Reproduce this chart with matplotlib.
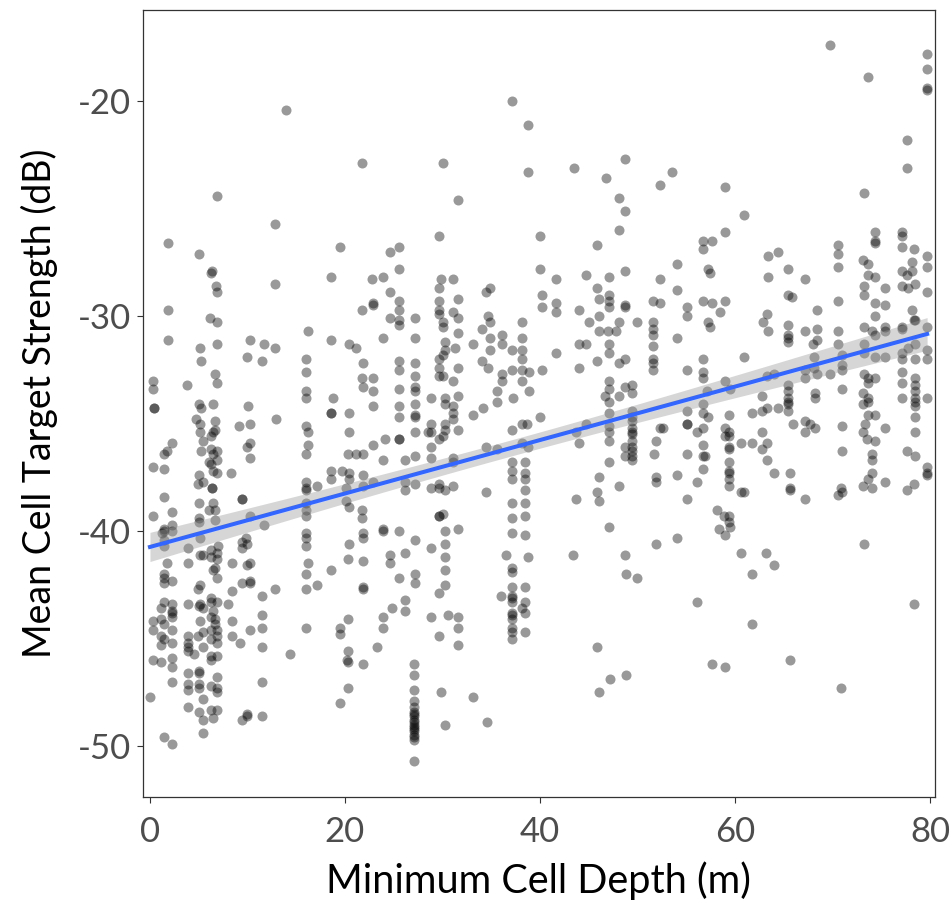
import numpy as np
import matplotlib
matplotlib.use("Agg")
import matplotlib.pyplot as plt

plt.rcParams['font.family'] = ['Lato', 'DejaVu Sans']
plt.rcParams['axes.unicode_minus'] = False

# points: (minimum cell depth m, mean cell TS dB)
pts_shallow = [
    (14.0,-20.4),(6.9,-24.4),(12.8,-25.7),(1.9,-26.6),(5.0,-27.1),(6.4,-27.9),(6.3,-28.0),(19.5,-26.8),(18.6,-28.2),
    (6.8,-28.6),(6.9,-28.9),(12.8,-28.5),(1.9,-29.7),(6.2,-30.1),(6.9,-30.3),(1.9,-31.1),(5.1,-31.5),(6.9,-31.3),
    (10.3,-31.1),(11.7,-31.3),(12.8,-31.5),(16.2,-30.7),(18.6,-31.1),(5.2,-32.1),(10.0,-31.9),(11.5,-32.1),(16.0,-32.0),
    (0.3,-33.0),(0.3,-33.4),(3.8,-33.2),(6.7,-32.7),(6.9,-33.1),(16.0,-32.6),(16.0,-33.5),(16.0,-33.8),(18.8,-33.8),
    (0.4,-34.3),(0.4,-34.3),(5.0,-34.1),(5.2,-34.3),(6.5,-34.1),(10.1,-34.2),(18.6,-34.5),(18.6,-34.5),(4.7,-34.8),
    (5.1,-35.0),(6.7,-34.9),(6.7,-35.3),(6.5,-35.4),(6.3,-35.6),(9.1,-35.1),(10.3,-35.0),(12.9,-34.8),(16.0,-35.1),
    (16.2,-35.4),(5.1,-35.4),(5.4,-35.8),(2.3,-35.9),(1.7,-36.3),(1.4,-36.4),(5.2,-36.3),(6.3,-36.2),(6.5,-36.4),
    (6.9,-36.3),(6.9,-36.7),(10.3,-35.9),(10.0,-36.1),(10.3,-36.6),(16.2,-36.0),(16.0,-36.4),(0.3,-37.0),(1.4,-37.1),
    (6.3,-36.9),(6.5,-37.2),(6.9,-37.3),(6.1,-36.8),(8.3,-37.3),(18.6,-37.2),(5.0,-37.4),(5.4,-37.7),
    (4.9,-37.8),(16.0,-37.7),(16.0,-38.0),(16.0,-38.1),(17.1,-37.9),(18.6,-37.6),(6.4,-38.0),(6.4,-38.0),(1.4,-38.4),
    (9.4,-38.5),(9.4,-38.5),(5.0,-38.7),(6.5,-38.7),(6.7,-39.0),(6.1,-39.0),(2.3,-39.1),(0.3,-39.3),(16.0,-38.7),
    (16.0,-39.0),(16.0,-39.3),(10.3,-39.3),(5.0,-39.4),(5.0,-39.6),(6.7,-39.5),(2.3,-39.7),(1.4,-39.9),(1.2,-40.1),
    (11.7,-39.7),(16.0,-40.1),(16.0,-40.3),(9.8,-40.3),
    (1.4,-40.0),(1.4,-40.4),(1.4,-40.7),(2.3,-40.0),(5.1,-40.3),(3.9,-40.8),(7.0,-40.7),(6.9,-41.0),(6.9,-41.3),
    (6.3,-40.9),(6.3,-41.2),(5.1,-41.1),(5.4,-41.1),(9.4,-40.5),(10.0,-40.6),(9.4,-40.8),(16.0,-40.7),(1.7,-41.5),
    (3.9,-41.5),(8.4,-41.5),(10.3,-41.5),(10.0,-41.6),(16.2,-41.5),(6.7,-41.7),(6.5,-41.8),(6.9,-42.2),(1.4,-42.0),
    (1.4,-42.2),(1.4,-42.4),(2.3,-42.3),(5.1,-42.5),(4.9,-42.7),(10.3,-42.3),(10.3,-42.4),(9.4,-42.4),(16.0,-42.0),
    (17.1,-42.5),(18.6,-41.8),(16.0,-42.7),(8.4,-42.8),(11.5,-43.0),(12.8,-42.7),(1.4,-43.3),(1.1,-43.6),(2.3,-43.4),
    (2.3,-43.7),(2.3,-43.8),(3.9,-43.4),(5.1,-43.4),(5.4,-43.6),(5.0,-43.5),(6.3,-43.1),(6.3,-43.3),(6.9,-43.3),
    (6.5,-43.7),(8.0,-43.4),(0.3,-44.2),(0.3,-44.6),(1.1,-44.1),(1.4,-44.3),(2.3,-44.6),(2.3,-44.0),(5.1,-44.2),
    (6.3,-44.0),(6.7,-44.1),(6.7,-44.3),(6.3,-44.6),(6.9,-44.6),(8.4,-44.2),(10.3,-44.6),(11.5,-43.9),(11.5,-44.5),
    (16.0,-44.5),(1.1,-44.9),(1.4,-45.0),(1.1,-45.3),(2.3,-45.2),(3.9,-44.9),(3.9,-45.2),(3.9,-45.6),(3.9,-45.4),
    (4.9,-44.9),(5.4,-44.7),(5.4,-45.4),(6.3,-45.0),(6.9,-44.9),(6.9,-45.2),(8.4,-44.9),(9.2,-45.2),(11.5,-45.4),
    (14.4,-45.7),(0.3,-46.0),(1.1,-46.1),(2.3,-45.9),(2.3,-46.3),(4.5,-45.7),(6.3,-45.8),(6.9,-45.8),(6.3,-46.0),
    (3.9,-46.6),(5.0,-46.5),(5.0,-46.6),(6.9,-46.8),(2.3,-47.0),(3.9,-47.1),(3.9,-47.4),(5.0,-47.1),(5.0,-47.3),
    (6.3,-47.2),(6.9,-47.3),(6.9,-47.5),(11.5,-47.0),(0.0,-47.7),(5.4,-47.8),(3.9,-48.2),(5.0,-48.4),(6.3,-48.3),
    (6.9,-48.3),(5.4,-48.8),(6.5,-48.7),(9.4,-48.8),(10.0,-48.6),(10.0,-48.5),(11.5,-48.6),(5.4,-49.4),(1.4,-49.6),
    (2.3,-49.9),(19.5,-44.5),(19.5,-44.8),(19.5,-48.0),
]

pts_mid = [
    (37.1,-20.0),(38.8,-21.1),(21.7,-22.9),(30.1,-22.9),(38.8,-23.3),(31.6,-24.6),(29.6,-26.3),(24.6,-27.0),(25.5,-26.8),
    (25.5,-27.8),(22.8,-28.3),(23.9,-28.2),(29.8,-28.3),(31.1,-28.3),(40.0,-26.3),(40.0,-27.8),
    (29.6,-28.7),(34.9,-28.7),(34.5,-28.9),(24.6,-28.9),(25.5,-29.3),(22.9,-29.4),(22.9,-29.5),(21.7,-29.7),(25.5,-29.7),
    (29.6,-29.3),(31.6,-29.2),(29.6,-29.7),(29.6,-29.9),(31.1,-29.8),(24.6,-30.1),(25.5,-30.2),(25.5,-30.4),(27.2,-30.1),
    (30.1,-30.3),(30.1,-30.5),(31.6,-30.1),(34.7,-30.0),(34.9,-30.3),(34.1,-30.6),(38.2,-30.3),(23.9,-31.0),(27.2,-31.0),
    (30.3,-31.2),(31.6,-30.8),(34.9,-31.0),(36.1,-30.9),(36.1,-31.3),(38.2,-31.0),(20.4,-31.3),(21.1,-31.5),(33.1,-31.3),
    (37.1,-31.6),(38.2,-31.6),(30.3,-31.6),(31.3,-31.5),(30.1,-31.8),(29.6,-32.0),(29.6,-32.4),(34.9,-31.6),(25.5,-32.1),
    (25.5,-32.5),(27.2,-32.2),(21.8,-32.2),(31.6,-32.4),(34.1,-32.1),(34.7,-32.4),(37.1,-32.5),(38.2,-32.0),(38.2,-32.5),
    (38.9,-32.6),(36.1,-32.7),(36.1,-33.0),(21.7,-32.9),(22.9,-32.9),(21.8,-33.3),(22.9,-33.5),(27.2,-32.8),(27.2,-33.3),
    (27.2,-33.5),(29.6,-32.8),(30.1,-32.8),(31.1,-33.0),(38.2,-33.0),(25.5,-33.4),(35.6,-33.5),(35.6,-34.0),(31.6,-33.7),
    (37.2,-33.8),(38.9,-33.5),(28.8,-33.8),(30.3,-33.8),(30.3,-34.1),(22.9,-34.2),(25.5,-34.2),(25.5,-34.7),(27.2,-34.1),
    (27.2,-34.6),(27.2,-34.7),(31.1,-34.2),(31.1,-34.5),(20.4,-34.5),(34.2,-34.3),(33.1,-34.6),(40.0,-34.7),(28.8,-35.0),
    (30.3,-35.0),(30.3,-35.3),(31.6,-35.3),(28.8,-35.4),(31.1,-34.8),(38.2,-35.0),(38.7,-35.0),(20.4,-35.4),(25.5,-35.7),
    (25.5,-35.7),(27.2,-35.4),(28.5,-35.4),(30.1,-35.6),(29.6,-35.7),(37.1,-35.3),(24.1,-35.7),(22.9,-36.0),(38.2,-35.9),
    (38.8,-36.1),(20.3,-36.4),(21.1,-36.4),(21.8,-36.4),(27.2,-36.5),(28.8,-36.1),(28.8,-36.6),(34.5,-36.1),(35.6,-36.2),
    (23.9,-36.7),(26.2,-36.7),(31.1,-36.6),(31.1,-36.8),(37.1,-36.8),(38.5,-36.8),(19.7,-37.2),(20.4,-37.3),(20.4,-37.6),
    (21.8,-37.4),(22.9,-37.7),(21.8,-37.9),(26.2,-37.7),(27.2,-37.8),(29.6,-37.8),(29.6,-38.0),(30.3,-38.1),
    (31.1,-37.9),(37.1,-37.2),(37.1,-37.6),(38.5,-37.3),(38.5,-37.6),(20.1,-38.0),(20.1,-38.6),(20.4,-38.9),(26.2,-38.1),
    (28.8,-38.0),(34.5,-38.2),(37.1,-38.7),(38.5,-38.1),(38.5,-38.7),(21.7,-39.0),(21.7,-39.4),(29.6,-39.3),(29.6,-39.3),
    (30.1,-39.2),(37.1,-39.4),(38.5,-39.3),(21.8,-40.1),(23.9,-39.9),(25.5,-40.0),(30.3,-40.0),(31.6,-39.9),(37.1,-40.1),
    (38.5,-40.2),
    (21.8,-40.3),(23.9,-40.0),(27.2,-40.4),(30.3,-40.6),(20.4,-40.6),(20.3,-41.3),(21.8,-41.4),(24.6,-41.1),(24.6,-41.5),
    (26.2,-41.0),(28.8,-40.8),(30.3,-41.2),(30.3,-41.8),(36.5,-41.1),(38.8,-41.2),(37.1,-41.9),(37.1,-41.7),(25.5,-42.2),
    (27.2,-42.0),(27.2,-42.4),(21.8,-42.6),(21.8,-42.7),(30.3,-42.5),(29.6,-42.9),(36.0,-43.0),(37.1,-42.6),(37.1,-43.0),
    (37.1,-43.1),(37.1,-43.3),(38.5,-42.6),(38.5,-43.3),(26.2,-43.2),(26.2,-43.7),(24.8,-43.6),(37.1,-43.8),(37.1,-43.9),
    (37.1,-44.1),(37.1,-44.5),(37.1,-44.7),(37.1,-45.0),(38.2,-43.6),(38.5,-43.8),(38.5,-44.7),(20.3,-44.1),(23.9,-44.0),
    (23.9,-44.5),(28.8,-44.0),(30.6,-43.9),(31.6,-44.0),(31.6,-44.5),(31.6,-45.3),(29.6,-44.9),(23.3,-45.4),(20.3,-45.6),
    (20.2,-46.0),(20.3,-46.1),(21.8,-46.2),(20.3,-47.3),
    (27.1,-46.2),(27.1,-46.7),(27.1,-47.4),(27.1,-47.9),(27.1,-48.2),(27.1,-48.4),(27.1,-48.5),(27.1,-48.6),(27.1,-48.8),
    (27.1,-48.9),(27.1,-49.0),(27.1,-49.1),(27.1,-49.2),(27.1,-49.3),(27.1,-49.5),(27.1,-49.6),(27.1,-49.7),(27.1,-50.7),
    (29.8,-47.5),(33.1,-47.7),(30.3,-49.0),(34.6,-48.9),
]

pts_deep = [
    (48.7,-22.7),(43.5,-23.1),(46.8,-23.6),(53.5,-23.3),(52.3,-23.9),(59.0,-24.0),(48.1,-24.5),(48.7,-25.1),(48.1,-26.0),
    (45.8,-26.7),(59.0,-26.1),(56.7,-26.5),(57.6,-26.5),(56.7,-26.9),(54.1,-27.6),(57.2,-27.8),(57.4,-28.0),(48.7,-27.9),
    (44.7,-28.1),(47.1,-28.2),(41.6,-28.3),(52.3,-28.3),
    (40.2,-29.0),(45.8,-28.7),(47.1,-29.0),(47.1,-29.3),(47.1,-29.6),(46.1,-29.2),(51.6,-29.3),(52.3,-29.4),(54.1,-28.8),
    (56.7,-29.3),(57.6,-29.4),(59.0,-29.3),(41.6,-29.4),(41.6,-29.8),(40.2,-29.6),(44.0,-29.7),(48.7,-29.5),(48.7,-29.6),
    (55.1,-29.6),(55.1,-30.0),(58.5,-29.8),(46.1,-30.0),(45.0,-30.3),(48.1,-30.3),(49.9,-30.3),(51.6,-30.3),(51.6,-30.6),
    (51.6,-30.9),(47.0,-30.7),(47.8,-30.7),(46.1,-30.7),(57.2,-30.3),(57.4,-30.5),(54.1,-31.0),(44.0,-31.3),(44.7,-31.3),
    (47.1,-31.3),(47.1,-31.7),(51.6,-31.4),(51.6,-32.0),(51.6,-32.5),(51.6,-32.2),(41.6,-31.7),(45.8,-32.1),(48.1,-32.2),
    (48.7,-32.0),(56.7,-32.0),(40.2,-32.5),(44.0,-32.4),(55.1,-32.5),(56.7,-32.6),(56.7,-32.9),(47.1,-33.0),(47.1,-33.4),
    (46.7,-33.7),(47.1,-34.0),(48.1,-33.7),(48.7,-33.3),(49.4,-33.2),(49.4,-33.6),(57.1,-33.5),(59.0,-33.0),(59.5,-33.4),
    (47.1,-34.5),(49.4,-34.4),(49.4,-34.7),(49.4,-34.9),(49.4,-35.2),(49.4,-35.4),(49.4,-35.5),(49.4,-35.8),(49.4,-36.1),
    (49.4,-36.3),(49.4,-36.5),(49.4,-36.7),(48.7,-36.1),(48.7,-36.5),(44.7,-35.0),(43.7,-35.4),(44.0,-35.9),
    (47.1,-35.1),(47.1,-35.4),(47.1,-35.8),(52.6,-35.2),(52.3,-35.2),(51.9,-35.8),(51.7,-36.4),(55.1,-34.4),(55.1,-35.0),
    (55.1,-35.0),(56.7,-34.1),(56.7,-34.5),(56.7,-35.2),(56.1,-35.4),(57.2,-34.7),(59.4,-34.6),(59.4,-35.4),(59.4,-35.6),
    (59.4,-36.1),(59.4,-36.2),(59.4,-36.8),(59.4,-37.2),(59.4,-37.3),(59.4,-37.6),(59.4,-37.9),(59.0,-35.2),(59.0,-35.6),
    (56.7,-36.0),(56.7,-36.5),(56.9,-36.5),(56.7,-37.1),(55.1,-36.4),(47.1,-36.8),(46.1,-37.5),(45.8,-38.2),(46.1,-38.6),
    (48.1,-37.9),(51.9,-37.5),(51.9,-37.7),(54.1,-37.4),(56.1,-37.7),(55.1,-38.5),(43.7,-38.5),(58.2,-39.0),(58.9,-39.3),
    (59.4,-39.3),(59.4,-39.6),(59.5,-39.8),(58.4,-39.9),(47.1,-39.8),(54.1,-40.3),
    (43.4,-41.1),(48.7,-41.1),(51.9,-40.6),(48.8,-42.0),(49.9,-42.2),(56.1,-43.3),(45.8,-45.4),(47.2,-46.9),(46.1,-47.5),
    (48.8,-46.7),(57.6,-46.2),(59.0,-46.3),(59.0,-40.2),
    (69.7,-17.4),(79.7,-17.8),(79.7,-18.5),(79.7,-19.4),(79.7,-19.5),(73.6,-18.9),(77.6,-21.8),(77.6,-23.1),(73.2,-24.3),
    (60.9,-25.3),(74.4,-26.1),(74.4,-26.5),(74.4,-26.6),(77.1,-26.1),(77.1,-26.3),(77.1,-26.8),(78.4,-26.9),(79.7,-27.2),
    (79.7,-27.7),(70.6,-26.7),(70.6,-27.1),(70.6,-27.7),(63.4,-27.2),(64.4,-27.0),(65.4,-27.8),(73.1,-27.4),(73.6,-27.6),
    (78.2,-27.5),(78.2,-27.9),(77.1,-27.9),(77.6,-28.1),(63.4,-28.2),(67.2,-28.3),(73.6,-28.1),(74.4,-28.2),
    (73.2,-28.6),(73.2,-29.0),(75.4,-28.7),(77.1,-28.6),(77.7,-28.7),(78.5,-28.5),(79.7,-28.9),(65.4,-29.0),(65.8,-29.1),
    (70.6,-29.3),(74.4,-29.4),(75.4,-29.5),(68.4,-29.7),(78.2,-29.7),(63.3,-29.9),(62.9,-30.3),(63.4,-30.7),(74.4,-30.0),
    (78.4,-30.2),(65.4,-30.4),(65.4,-30.9),(65.4,-31.0),(65.4,-31.2),(67.2,-30.7),(68.4,-30.6),(68.4,-31.1),(68.0,-31.3),
    (70.6,-30.7),(70.6,-31.3),(73.2,-30.5),(74.0,-30.7),(74.4,-30.9),(75.4,-30.5),(75.4,-30.7),(77.1,-30.5),(77.1,-30.6),
    (78.5,-30.2),(79.7,-30.5),(60.9,-31.9),(68.1,-31.9),(68.1,-32.4),(68.4,-32.7),(71.0,-31.8),(71.0,-32.3),(73.2,-31.3),
    (73.2,-31.7),(74.4,-31.9),(75.4,-31.9),(77.1,-31.7),(77.7,-31.5),(78.5,-31.3),(77.1,-32.0),(78.5,-32.0),(79.7,-31.6),
    (79.7,-32.0),(64.0,-32.7),(63.3,-32.8),(67.2,-32.5),(67.2,-32.9),(69.7,-32.7),(71.0,-32.5),(73.2,-32.7),(73.6,-32.9),
    (73.6,-33.1),(74.4,-32.9),(77.1,-32.6),(77.1,-33.1),(78.5,-32.9),(78.5,-33.2),(78.5,-33.5),(78.5,-33.8),(78.5,-34.0),
    (78.5,-34.2),(78.5,-34.7),(78.5,-35.4),(65.4,-33.2),(65.4,-33.5),(65.4,-33.8),(65.4,-34.0),(65.4,-34.1),(65.4,-34.4),
    (62.8,-33.7),(68.2,-33.6),(68.2,-33.8),(71.0,-33.4),(73.1,-33.6),(73.6,-33.8),(73.1,-34.1),(73.6,-34.0),(77.1,-33.8),
    (79.7,-33.8),(61.7,-34.5),(62.8,-34.4),(63.3,-34.3),(64.4,-34.3),(65.9,-35.0),(67.2,-34.9),(67.7,-35.0),(68.2,-35.2),
    (71.0,-35.1),(73.6,-34.6),(74.4,-34.6),(73.3,-35.0),(75.4,-35.2),(67.2,-35.4),(62.8,-35.4),(60.6,-35.9),(61.7,-35.9),
    (63.3,-35.9),(62.8,-36.2),(73.1,-35.4),(73.5,-35.7),(74.4,-35.8),(71.0,-36.3),(77.6,-36.3),(78.5,-36.5),(74.0,-36.4),
    (74.0,-36.7),(63.3,-36.7),(64.0,-37.3),(65.6,-37.3),(74.0,-37.3),(73.6,-37.6),(73.1,-37.9),(74.0,-38.0),(75.4,-37.7),
    (79.7,-37.0),(79.7,-37.3),(79.7,-37.4),(78.4,-37.8),(77.6,-38.1),(60.6,-38.2),(60.9,-38.2),(65.6,-38.0),(65.6,-38.1),
    (67.2,-38.5),(70.9,-38.0),(70.6,-38.3),(71.0,-38.2),
    (60.6,-41.0),(63.2,-41.0),(64.0,-41.6),(61.7,-42.0),(61.7,-44.3),(65.6,-46.0),(70.9,-47.3),(73.2,-40.6),(78.4,-43.4),
]

pts = np.array(pts_shallow + pts_mid + pts_deep)
depth = pts[:, 0]
ts = pts[:, 1]

x_ticks = [0, 20, 40, 60, 80]
y_ticks = [-50, -40, -30, -20]

# linear fit with 95% confidence band
n = len(depth)
slope, icpt = np.polyfit(depth, ts, 1)
xs = np.linspace(depth.min(), depth.max(), 80)
fit = icpt + slope * xs
resid = ts - (icpt + slope * depth)
s = np.sqrt(np.sum(resid ** 2) / (n - 2))
se = s * np.sqrt(1.0 / n + (xs - depth.mean()) ** 2 / np.sum((depth - depth.mean()) ** 2))
ci = 1.963 * se

fig = plt.figure(figsize=(9.53, 9.13), dpi=100)
ax = fig.add_axes([0.150, 0.127, 0.831, 0.862])

ax.scatter(depth, ts, s=52, c='black', alpha=0.4, linewidths=0, zorder=2)
ax.fill_between(xs, fit - ci, fit + ci, color='#999999', alpha=0.4, linewidth=0, zorder=3)
ax.plot(xs, fit, color='#3366FF', lw=2.9, zorder=4)

ax.set_xlim(-0.72, 80.5)
ax.set_ylim(-52.37, -15.77)
ax.set_xticks(x_ticks)
ax.set_yticks(y_ticks)
ax.tick_params(axis='both', labelsize=25, colors='#333333', labelcolor='#4D4D4D',
               length=4.5, width=0.8)
ax.tick_params(axis='x', pad=9)
ax.tick_params(axis='y', pad=4)
for sp in ax.spines.values():
    sp.set_color('#333333')
    sp.set_linewidth(0.9)

ax.set_xlabel('Minimum Cell Depth (m)', fontsize=28.5, color='black', labelpad=10)
ax.set_ylabel('Mean Cell Target Strength (dB)', fontsize=27, color='black', labelpad=14)

fig.savefig('out.png', dpi=100)
